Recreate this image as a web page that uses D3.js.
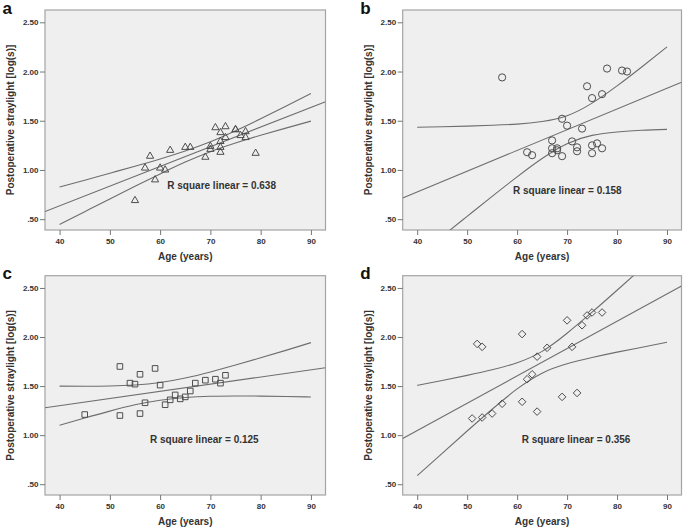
<!DOCTYPE html>
<html>
<head>
<meta charset="utf-8">
<script src="https://cdn.jsdelivr.net/npm/d3@7"></script>
<style>
  html, body { margin: 0; padding: 0; background: #ffffff; }
  svg { display: block; font-family: "Liberation Sans", Arial, sans-serif; }
</style>
</head>
<body>
<svg id="chart" width="685" height="530"></svg>
<script>
// ---------- DATA ----------
const panelLetters = ["a", "b", "c", "d"];
const rSquareTexts = ["R square linear = 0.638", "R square linear = 0.158", "R square linear = 0.125", "R square linear = 0.356"];
const markerShapes = ["triangle", "circle", "square", "diamond"];

const xTicks = [40, 50, 60, 70, 80, 90];
const yTicks = [0.5, 1.0, 1.5, 2.0, 2.5];
const yTickLabels = [".50", "1.00", "1.50", "2.00", "2.50"];
const xTitle = "Age (years)";
const yTitle = "Postoperative straylight [log(s)]";

// panel a (triangles)
const agesA  = [55, 57, 58, 59, 60, 61, 62, 65, 66, 69, 70, 70, 71, 72, 72, 72, 72, 73, 73, 75, 75, 76, 77, 77, 79];
const strayA = [0.69, 1.02, 1.14, 0.90, 1.02, 1.00, 1.20, 1.23, 1.23, 1.13, 1.21, 1.24, 1.43, 1.38, 1.29, 1.23, 1.18, 1.44, 1.33, 1.41, 1.41, 1.35, 1.39, 1.33, 1.17];
// panel b (circles)
const agesB  = [57, 62, 63, 67, 67, 67, 68, 68, 69, 69, 70, 71, 72, 72, 73, 74, 75, 75, 75, 76, 77, 77, 78, 81, 82];
const strayB = [1.94, 1.18, 1.15, 1.30, 1.22, 1.17, 1.22, 1.20, 1.52, 1.14, 1.45, 1.29, 1.23, 1.19, 1.42, 1.85, 1.73, 1.25, 1.17, 1.27, 1.77, 1.22, 2.03, 2.01, 2.00];
// panel c (squares)
const agesC  = [45, 52, 52, 54, 55, 56, 56, 57, 59, 60, 61, 62, 63, 64, 65, 66, 67, 69, 71, 72, 73];
const strayC = [1.21, 1.70, 1.20, 1.53, 1.52, 1.62, 1.22, 1.33, 1.68, 1.51, 1.31, 1.36, 1.41, 1.37, 1.39, 1.45, 1.53, 1.56, 1.57, 1.53, 1.61];
// panel d (diamonds)
const agesD  = [51, 52, 53, 53, 55, 57, 61, 61, 62, 63, 64, 64, 66, 69, 70, 71, 72, 73, 74, 75, 77];
const strayD = [1.17, 1.93, 1.90, 1.18, 1.22, 1.32, 2.03, 1.34, 1.57, 1.62, 1.80, 1.24, 1.89, 1.39, 2.17, 1.90, 1.43, 2.12, 2.22, 2.25, 2.25];

// fitted line, read at the frame edges
const fitAges = [37.1, 92.9];
const fitA = [0.578, 1.694];
const fitB = [0.715, 1.892];
const fitC = [1.279, 1.687];
const fitD = [0.966, 2.520];

// 95% confidence curves, read every 5 years
const bandAges = [40, 45, 50, 55, 60, 65, 70, 75, 80, 85, 90];
const upperA = [0.826, 0.896, 0.967, 1.038, 1.112, 1.193, 1.286, 1.398, 1.520, 1.647, 1.776];
const lowerA = [0.446, 0.576, 0.706, 0.834, 0.960, 1.080, 1.186, 1.274, 1.352, 1.425, 1.496];
const upperB = [1.434, 1.439, 1.445, 1.454, 1.466, 1.492, 1.551, 1.679, 1.854, 2.049, 2.250];
const lowerB = [0.118, 0.325, 0.529, 0.732, 0.930, 1.116, 1.267, 1.351, 1.386, 1.403, 1.412];
const upperC = [1.500, 1.499, 1.501, 1.511, 1.536, 1.582, 1.644, 1.714, 1.788, 1.864, 1.943];
const lowerC = [1.100, 1.175, 1.245, 1.309, 1.356, 1.384, 1.396, 1.399, 1.398, 1.394, 1.389];
const upperD = [1.507, 1.557, 1.609, 1.666, 1.738, 1.854, 2.039, 2.253, 2.477, 2.704, 2.932];
const lowerD = [0.587, 0.815, 1.042, 1.264, 1.471, 1.632, 1.727, 1.791, 1.846, 1.896, 1.946];

const allAges = [agesA, agesB, agesC, agesD];
const allStray = [strayA, strayB, strayC, strayD];
const allFit = [fitA, fitB, fitC, fitD];
const allUpper = [upperA, upperB, upperC, upperD];
const allLower = [lowerA, lowerB, lowerC, lowerD];

// ---------- LAYOUT ----------
const frames = [
  {left: 45,    right: 325.5, top: 10,    bottom: 230},
  {left: 402.7, right: 681.5, top: 10,    bottom: 230},
  {left: 45,    right: 325.5, top: 275.7, bottom: 495},
  {left: 402.7, right: 681.5, top: 275.7, bottom: 495}
];
const rTextPos = [[167.3, 189], [513, 194], [150, 443], [521.7, 442.5]];
const xDomain = [37.1, 92.9];
const yDomain = [0.39, 2.625];

const svg = d3.select("#chart");
const lineColor = "#6e6e6e";
const markColor = "#4d4d4d";

function markerPath(shape) {
  if (shape === "triangle") return "M0,-4.2L3.6,2.1L-3.6,2.1Z";
  if (shape === "circle") return d3.symbol().type(d3.symbolCircle).size(Math.PI * 3.6 * 3.6)();
  if (shape === "square") return "M-2.8,-2.8H2.8V2.8H-2.8Z";
  return "M0,-3.8L3.8,0L0,3.8L-3.8,0Z";
}

frames.forEach((f, i) => {
  const x = d3.scaleLinear().domain(xDomain).range([f.left, f.right]);
  const y = d3.scaleLinear().domain(yDomain).range([f.bottom, f.top]);
  const g = svg.append("g");

  // frame
  g.append("rect")
    .attr("x", f.left).attr("y", f.top)
    .attr("width", f.right - f.left).attr("height", f.bottom - f.top)
    .attr("fill", "#efefef").attr("stroke", "#a4a4a4").attr("stroke-width", 1.2);

  // clip
  const clipId = "clip" + i;
  svg.append("clipPath").attr("id", clipId)
    .append("rect")
    .attr("x", f.left).attr("y", f.top)
    .attr("width", f.right - f.left).attr("height", f.bottom - f.top);

  // axes
  const xAxis = d3.axisBottom(x).tickValues(xTicks).tickSize(5).tickSizeOuter(0).tickPadding(3)
    .tickFormat(d3.format("d"));
  const gx = g.append("g").attr("transform", `translate(0,${f.bottom})`).call(xAxis);
  const yAxis = d3.axisLeft(y).tickValues(yTicks).tickSize(5).tickSizeOuter(0).tickPadding(1.5)
    .tickFormat((d, k) => yTickLabels[k]);
  const gy = g.append("g").attr("transform", `translate(${f.left},0)`).call(yAxis);
  [gx, gy].forEach(a => {
    a.select(".domain").remove();
    a.selectAll(".tick line").attr("stroke", "#777").attr("stroke-width", 1);
    a.selectAll(".tick text").attr("fill", "#333").attr("font-size", 8)
      .attr("font-weight", "bold").attr("font-family", "Liberation Sans, Arial, sans-serif");
  });

  // titles
  g.append("text")
    .attr("x", (f.left + f.right) / 2).attr("y", f.bottom + 29.5)
    .attr("text-anchor", "middle").attr("font-size", 10).attr("font-weight", "bold")
    .attr("fill", "#333").text(xTitle);
  const ytx = f.left - 31;
  g.append("text")
    .attr("transform", `translate(${ytx},${(f.top + f.bottom) / 2}) rotate(-90)`)
    .attr("text-anchor", "middle").attr("font-size", 10).attr("font-weight", "bold")
    .attr("fill", "#333").text(yTitle);

  // panel letter
  g.append("text")
    .attr("x", f.left - 42.5).attr("y", f.top + 3.5)
    .attr("font-size", 17).attr("font-weight", "bold").attr("fill", "#111")
    .text(panelLetters[i]);

  // lines
  const lg = g.append("g").attr("clip-path", `url(#${clipId})`);
  const band = d3.line().x((d, k) => x(bandAges[k])).y(d => y(d)).curve(d3.curveNatural);
  lg.append("path").attr("d", band(allUpper[i]))
    .attr("fill", "none").attr("stroke", lineColor).attr("stroke-width", 1.1);
  lg.append("path").attr("d", band(allLower[i]))
    .attr("fill", "none").attr("stroke", lineColor).attr("stroke-width", 1.1);
  const fit = d3.line().x((d, k) => x(fitAges[k])).y(d => y(d));
  lg.append("path").attr("d", fit(allFit[i]))
    .attr("fill", "none").attr("stroke", lineColor).attr("stroke-width", 1.1);

  // markers
  const mp = markerPath(markerShapes[i]);
  g.append("g").selectAll("path")
    .data(allAges[i].map((a, k) => [a, allStray[i][k]]))
    .join("path")
    .attr("d", mp)
    .attr("transform", d => `translate(${x(d[0])},${y(d[1])})`)
    .attr("fill", "none").attr("stroke", markColor).attr("stroke-width", 1);

  // R square label
  g.append("text")
    .attr("x", rTextPos[i][0]).attr("y", rTextPos[i][1])
    .attr("font-size", 10).attr("font-weight", "bold").attr("fill", "#333")
    .text(rSquareTexts[i]);
});
</script>
</body>
</html>
